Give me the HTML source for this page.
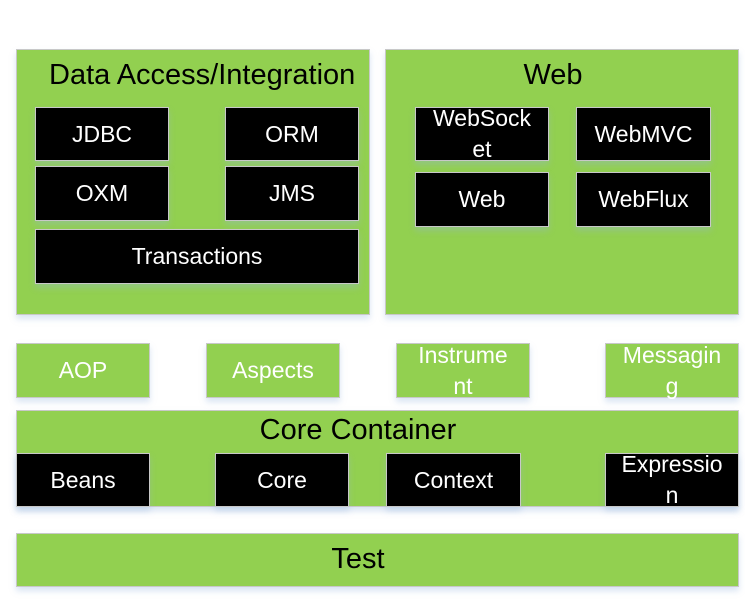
<!DOCTYPE html>
<html><head><meta charset="utf-8"><style>
body{margin:0;width:745px;height:602px;background:#fff;position:relative;overflow:hidden;font-family:"Liberation Sans",sans-serif}
.b{position:absolute;box-sizing:border-box;border:1px solid #c8c8c8;box-shadow:0 4px 6px rgba(150,180,220,.35)}
.g{background:#92d050}
.k{background:#000;color:#fff;display:flex;align-items:center;justify-content:center;text-align:center;font-size:23px;line-height:31px;white-space:nowrap}
.w{color:#fff;display:flex;align-items:center;justify-content:center;text-align:center;font-size:23px;line-height:31px;white-space:nowrap}
.t{position:absolute;color:#000;font-size:29px;white-space:nowrap;text-align:center;line-height:33px}
</style></head><body>
<div class="b g" style="left:16px;top:49px;width:354px;height:266px"></div>
<div class="t" style="left:49px;top:59px">Data Access/Integration</div>
<div class="b k" style="left:35px;top:107px;width:134px;height:54px">JDBC</div>
<div class="b k" style="left:225px;top:107px;width:134px;height:54px">ORM</div>
<div class="b k" style="left:35px;top:166px;width:134px;height:55px">OXM</div>
<div class="b k" style="left:225px;top:166px;width:134px;height:55px">JMS</div>
<div class="b k" style="left:35px;top:229px;width:324px;height:55px">Transactions</div>

<div class="b g" style="left:385px;top:49px;width:354px;height:266px"></div>
<div class="t" style="left:453px;width:200px;top:59px">Web</div>
<div class="b k" style="left:415px;top:107px;width:134px;height:54px">WebSock<br>et</div>
<div class="b k" style="left:576px;top:107px;width:135px;height:54px">WebMVC</div>
<div class="b k" style="left:415px;top:172px;width:134px;height:55px">Web</div>
<div class="b k" style="left:576px;top:172px;width:135px;height:55px">WebFlux</div>

<div class="b g w" style="left:16px;top:343px;width:134px;height:55px">AOP</div>
<div class="b g w" style="left:206px;top:343px;width:134px;height:55px">Aspects</div>
<div class="b g w" style="left:396px;top:343px;width:134px;height:55px">Instrume<br>nt</div>
<div class="b g w" style="left:605px;top:343px;width:134px;height:55px">Messagin<br>g</div>

<div class="b g" style="left:16px;top:410px;width:723px;height:97px"></div>
<div class="t" style="left:208px;width:300px;top:414px">Core Container</div>
<div class="b k" style="left:16px;top:453px;width:134px;height:54px">Beans</div>
<div class="b k" style="left:215px;top:453px;width:134px;height:54px">Core</div>
<div class="b k" style="left:386px;top:453px;width:135px;height:54px">Context</div>
<div class="b k" style="left:605px;top:453px;width:134px;height:54px">Expressio<br>n</div>

<div class="b g" style="left:16px;top:533px;width:723px;height:54px"></div>
<div class="t" style="left:258px;width:200px;top:543px">Test</div>
</body></html>
